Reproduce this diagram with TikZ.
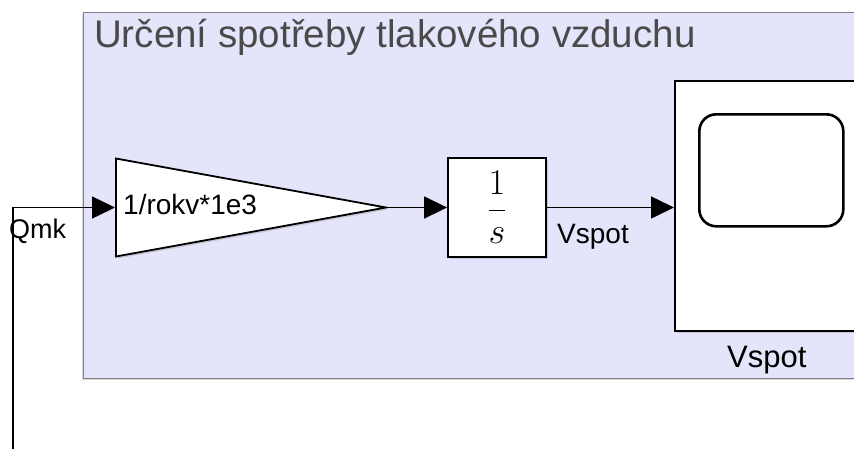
\documentclass[tikz,border=0pt]{standalone}
\usepackage{fontspec}
\setmainfont{Liberation Sans}
\usetikzlibrary{positioning,arrows.meta,shapes.geometric,shadows}

\definecolor{areafill}{HTML}{E4E4FA}
\definecolor{areaedge}{HTML}{7F7F86}
\definecolor{titlegray}{HTML}{4A4A4A}

\begin{document}
\begin{tikzpicture}[
  x=1pt,y=-1pt,
  blk/.style={draw,line width=1.8pt,fill=white,inner sep=0pt,
    drop shadow={shadow xshift=2pt,shadow yshift=-2pt,opacity=.3}},
  sig/.style={line width=1.5pt,-{Triangle[length=23pt,width=22pt]}},
  lbl/.style={font=\fontsize{28}{30}\selectfont,inner sep=0pt,anchor=base west}
]
\useasboundingbox (0,0) rectangle (854,448);
\clip (0,0) rectangle (854,448);
% ---------------- subsystem area ----------------
\node[draw=areaedge,line width=1pt,fill=areafill,minimum width=830pt,minimum height=366pt,
  inner sep=0pt,anchor=north west,
  drop shadow={shadow xshift=-1.5pt,shadow yshift=-1.5pt,opacity=.3}] (area) at (83,12) {};
\node[lbl,font=\fontsize{38.5}{40}\selectfont,text=titlegray] (title) at (94,47)
     {Určení spotřeby tlakového vzduchu};

% ---------------- blocks ----------------
\node[blk,isosceles triangle,isosceles triangle stretches,shape border rotate=0,
  minimum width=98pt,minimum height=270pt,anchor=lower side] (gain) at (115,207.5) {};
\node[lbl] (gaintxt) at (123,214) {1/rokv*1e3};
\node[blk,minimum width=98pt,minimum height=99pt] (integ) at (497,207.5)
     {\scalebox{1.75}{\fontsize{20}{22}\selectfont$\displaystyle\frac{1}{s}$}};
\node[blk,minimum width=210pt,minimum height=250pt,anchor=north west] (scope) at (674,80) {};
\node[draw,line width=2.6pt,rounded corners=17pt,minimum width=144pt,minimum height=112pt,
  inner sep=0pt,anchor=north west] (screen) at (698,113) {};
\node[lbl,font=\fontsize{31}{33}\selectfont] (scopetxt) at (727,367) {Vspot};

% ---------------- signals ----------------
\coordinate (qin) at (13,460);
\draw[sig] (qin) |- (gain.lower side);
\node[lbl,font=\fontsize{27}{29}\selectfont] (qmk) at (9,238) {Qmk};
\draw[sig] (gain.apex) -- (integ.west);
\draw[sig] (integ.east) -- (integ.east -| scope.west);
\node[lbl] (vspot) at (557,243) {Vspot};
\end{tikzpicture}
\end{document}
